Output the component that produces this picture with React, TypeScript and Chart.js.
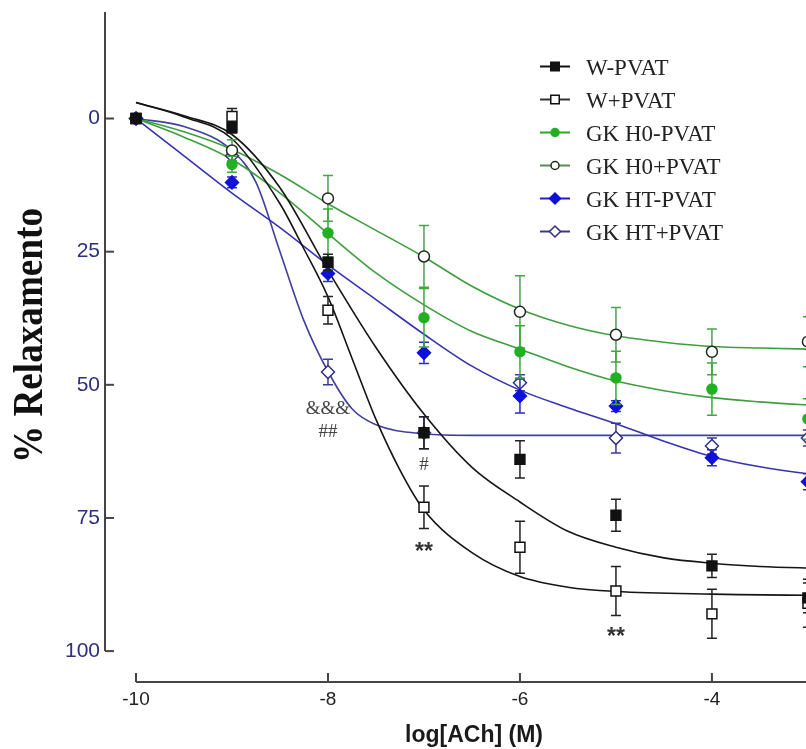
import { useEffect, useRef } from "react";
import { Chart, registerables } from "chart.js";

Chart.register(...registerables);

// ---- data ----
const doses = [-10, -9, -8, -7, -6, -5, -4, -3];
const seriesLabels = ["W-PVAT", "W+PVAT", "GK H0-PVAT", "GK H0+PVAT", "GK HT-PVAT", "GK HT+PVAT"];

const wMinusMean = [0, 1.7, 27, 59, 64, 74.5, 84, 90];
const wMinusErr = [0, 1, 1.5, 3, 3.5, 3, 2.2, 2.8];
const wPlusMean = [0, -0.4, 36, 73, 80.5, 88.7, 93, 91];
const wPlusErr = [0, 1.5, 2.6, 4, 4.9, 4.6, 4.6, 4.5];
const h0MinusMean = [0, 8.6, 21.5, 37.4, 43.8, 48.7, 50.8, 56.4];
const h0MinusErr = [0, 1.5, 4.5, 5.5, 4.9, 5, 4.9, 3.8];
const h0PlusMean = [0, 6, 15, 25.9, 36.3, 40.6, 43.8, 41.9];
const h0PlusErr = [0, 2, 4.3, 5.8, 6.8, 5.1, 4.3, 4.7];
const htMinusMean = [0, 12, 29.1, 44, 52.1, 54, 63.7, 68.2];
const htMinusErr = [0, 1, 1.5, 2, 3.2, 1, 1.5, 1.5];
const htPlusMean = [0, 7, 47.6, 59, 49.6, 60, 61.5, 60];
const htPlusErr = [0, 1, 2.4, 3, 1.5, 2.8, 1.5, 1.5];

// fitted curves
const fitX = [-10, -9.5, -9, -8.5, -8, -7.5, -7, -6.5, -6, -5.5, -5, -4.5, -4, -3.5, -3, -2.5];
const wMinusFit = [-3, -0.5, 3, 13, 28.5, 43, 55.5, 65.5, 72, 77.5, 80.5, 82.5, 83.5, 84.1, 84.4, 84.6];
const wPlusFitX = [-10, -9.5, -9, -8.5, -8.25, -8, -7.75, -7.5, -7.25, -7, -6.5, -6, -5.5, -5, -4, -3, -2.5];
const wPlusFit = [-3, -0.3, 3.8, 16, 24.5, 33.5, 45, 56.5, 66, 73.5, 81.5, 86, 88, 88.8, 89.3, 89.5, 89.5];
const h0MinusFit = [0, 3.5, 7.7, 14, 21.6, 29, 35, 40, 43.3, 46.6, 49.3, 51.1, 52.4, 53.2, 53.8, 54.2];
const h0PlusFit = [0, 2.5, 5.8, 10.5, 16, 21, 26, 31.5, 35.8, 38.8, 40.8, 42, 42.8, 43.1, 43.3, 43.4];
const htMinusFit = [0, 7, 14, 20.5, 27.5, 34, 40.5, 46.5, 51, 54.3, 57.3, 60.6, 63.5, 65.4, 66.7, 67.6];
const htPlusFitX = [-10, -9.5, -9, -8.75, -8.5, -8.25, -8, -7.75, -7.5, -7, -6.5, -6, -5, -4, -3, -2.5];
const htPlusFit = [0, 1.5, 6, 12, 25, 38, 47.5, 54.5, 57.5, 59.2, 59.5, 59.5, 59.5, 59.5, 59.5, 59.5];

const xTicks = [-10, -8, -6, -4];
const yTicks = [0, 25, 50, 75, 100];
const yAxisTop = -20;

const annotText = ["&&&", "##", "#", "**", "**"];
const annotX = [-8, -8, -7, -7, -5];
const annotY = [54.5, 58.9, 65, 80.2, 96.3];

const xTitle = "log[ACh] (M)";
const yTitle = "% Relaxamento";

// ---- styles ----
const markerStyles = [
  { shape: "rect", r: 7, fill: "#111", stroke: "#111", err: "#222" },
  { shape: "rect", r: 7, fill: "#fff", stroke: "#111", err: "#222" },
  { shape: "circle", r: 5, fill: "#22b022", stroke: "#22b022", err: "#3aaa3a" },
  { shape: "circle", r: 5.5, fill: "#fff", stroke: "#1e2a1e", err: "#4aa24a" },
  { shape: "rectRot", r: 6.5, fill: "#1010dc", stroke: "#1010dc", err: "#2a2ad0" },
  { shape: "rectRot", r: 6.5, fill: "#fff", stroke: "#30307e", err: "#3a3a9a" },
];
const fitColors = ["#151515", "#151515", "#3e9e3e", "#3e9e3e", "#3434b0", "#40409c"];
const legendLineColors = ["#111", "#333", "#22aa22", "#5a8a5a", "#2020c8", "#3a3a88"];

const CANVAS_W = 830;
const CANVAS_H = 749;

function drawMarker(ctx: CanvasRenderingContext2D, shape: string, x: number, y: number, r: number, fill: string, stroke: string) {
  ctx.beginPath();
  if (shape === "rect") {
    const s = r * Math.SQRT1_2;
    ctx.rect(x - s, y - s, 2 * s, 2 * s);
  } else if (shape === "rectRot") {
    ctx.moveTo(x, y - r);
    ctx.lineTo(x + r, y);
    ctx.lineTo(x, y + r);
    ctx.lineTo(x - r, y);
    ctx.closePath();
  } else {
    ctx.arc(x, y, r, 0, Math.PI * 2);
  }
  ctx.fillStyle = fill;
  ctx.fill();
  ctx.lineWidth = 1.5;
  ctx.strokeStyle = stroke;
  ctx.stroke();
}

export default function App() {
  const ref = useRef<HTMLCanvasElement>(null);

  useEffect(() => {
    const canvas = ref.current;
    if (!canvas) return;

    const means = [wMinusMean, wPlusMean, h0MinusMean, h0PlusMean, htMinusMean, htPlusMean];
    const errs = [wMinusErr, wPlusErr, h0MinusErr, h0PlusErr, htMinusErr, htPlusErr];
    const fitXs = [fitX, wPlusFitX, fitX, fitX, fitX, htPlusFitX];
    const fits = [wMinusFit, wPlusFit, h0MinusFit, h0PlusFit, htMinusFit, htPlusFit];

    const fitSets = fits.map((f, i) => ({
      label: seriesLabels[i] + " fit",
      data: f.map((v, j) => ({ x: fitXs[i][j], y: v })),
      showLine: true,
      borderColor: fitColors[i],
      borderWidth: 1.6,
      pointRadius: 0,
      cubicInterpolationMode: "monotone",
      order: 2,
    }));

    const pointSets = means.map((m, i) => ({
      label: seriesLabels[i],
      data: m.map((v, j) => ({ x: doses[j], y: v })),
      errors: errs[i],
      showLine: false,
      pointStyle: markerStyles[i].shape,
      pointRadius: markerStyles[i].r,
      pointBackgroundColor: markerStyles[i].fill,
      pointBorderColor: markerStyles[i].stroke,
      pointBorderWidth: 1.5,
      backgroundColor: markerStyles[i].fill,
      borderColor: markerStyles[i].stroke,
      errColor: markerStyles[i].err,
      order: 1,
      clip: false,
    }));

    const decor = {
      id: "decor",
      beforeDatasetsDraw(chart: any) {
        const { ctx, chartArea } = chart;
        const xs = chart.scales.x;
        const ys = chart.scales.y;
        ctx.save();
        ctx.strokeStyle = "#454545";
        ctx.lineWidth = 2;
        const ax = chartArea.left;
        ctx.beginPath();
        ctx.moveTo(ax, ys.getPixelForValue(yAxisTop));
        ctx.lineTo(ax, ys.getPixelForValue(100));
        ctx.stroke();
        yTicks.forEach((v) => {
          const py = ys.getPixelForValue(v);
          ctx.beginPath();
          ctx.moveTo(ax, py);
          ctx.lineTo(ax + 9, py);
          ctx.stroke();
        });
        const ay = chartArea.bottom;
        ctx.beginPath();
        ctx.moveTo(xs.getPixelForValue(-10), ay);
        ctx.lineTo(chart.width, ay);
        ctx.stroke();
        xTicks.forEach((v) => {
          const px = xs.getPixelForValue(v);
          ctx.beginPath();
          ctx.moveTo(px, ay);
          ctx.lineTo(px, ay - 9);
          ctx.stroke();
        });
        ctx.restore();
      },
      beforeDatasetDraw(chart: any, args: any) {
        const ds = chart.data.datasets[args.index];
        if (!ds.errors) return;
        const { ctx } = chart;
        const xs = chart.scales.x;
        const ys = chart.scales.y;
        ctx.save();
        ctx.strokeStyle = ds.errColor;
        ctx.lineWidth = 1.5;
        ds.data.forEach((p: any, j: number) => {
          const e = ds.errors[j];
          if (!e) return;
          const px = xs.getPixelForValue(p.x);
          const y1 = ys.getPixelForValue(p.y - e);
          const y2 = ys.getPixelForValue(p.y + e);
          ctx.beginPath();
          ctx.moveTo(px, y1);
          ctx.lineTo(px, y2);
          ctx.moveTo(px - 5, y1);
          ctx.lineTo(px + 5, y1);
          ctx.moveTo(px - 5, y2);
          ctx.lineTo(px + 5, y2);
          ctx.stroke();
        });
        ctx.restore();
      },
      afterDatasetsDraw(chart: any) {
        const { ctx } = chart;
        const xs = chart.scales.x;
        const ys = chart.scales.y;
        ctx.save();
        // annotations
        annotText.forEach((t, i) => {
          const px = xs.getPixelForValue(annotX[i]);
          const py = ys.getPixelForValue(annotY[i]);
          ctx.textAlign = "center";
          ctx.textBaseline = "middle";
          if (t.startsWith("*")) {
            ctx.font = 'bold 23px "Liberation Sans", Arial, sans-serif';
            ctx.fillStyle = "#333";
            ctx.textBaseline = "alphabetic";
            ctx.fillText(t, px, py + 13);
          } else {
            ctx.font = '19px "Liberation Serif", "Times New Roman", serif';
            ctx.fillStyle = "#444";
            ctx.fillText(t, px, py);
          }
        });

        // legend
        const legX0 = 540, legX1 = 570, legMx = 555, legTextX = 586, legY0 = 66.5, legDy = 33;
        seriesLabels.forEach((lab, i) => {
          const cy = legY0 + i * legDy;
          ctx.strokeStyle = legendLineColors[i];
          ctx.lineWidth = 2;
          ctx.beginPath();
          ctx.moveTo(legX0, cy);
          ctx.lineTo(legX1, cy);
          ctx.stroke();
          const ms = markerStyles[i];
          drawMarker(ctx, ms.shape, legMx, cy, ms.shape === "circle" ? 4 : ms.shape === "rect" ? 6 : 5.5, ms.fill, ms.stroke);
          ctx.font = '23px "Liberation Serif", "Times New Roman", serif';
          ctx.fillStyle = "#222";
          ctx.textAlign = "left";
          ctx.textBaseline = "alphabetic";
          ctx.fillText(lab, legTextX, cy + 8);
        });

        // x title
        ctx.font = 'bold 23px "Liberation Sans", Arial, sans-serif';
        ctx.fillStyle = "#1a1a1a";
        ctx.textAlign = "center";
        ctx.textBaseline = "alphabetic";
        ctx.fillText(xTitle, 474, 742);

        // y title (condensed serif, rotated)
        ctx.font = 'bold 42px "Liberation Serif", "Times New Roman", serif';
        const w = ctx.measureText(yTitle).width;
        ctx.translate(42, 335.5);
        ctx.rotate(-Math.PI / 2);
        ctx.scale(255 / w, 1);
        ctx.fillStyle = "#111";
        ctx.textAlign = "center";
        ctx.fillText(yTitle, 0, 0);
        ctx.restore();
      },
    };

    const chart = new Chart(canvas, {
      type: "scatter",
      data: { datasets: [...fitSets, ...pointSets] as any },
      options: {
        responsive: false,
        animation: false,
        devicePixelRatio: 1,
        layout: { autoPadding: false, padding: { top: 12, left: 0, right: 0, bottom: 0 } },
        plugins: { legend: { display: false }, tooltip: { enabled: false } },
        scales: {
          x: {
            type: "linear",
            min: -10.323,
            max: -2.77,
            grid: { display: false, drawTicks: false },
            border: { display: false },
            ticks: {
              padding: 6,
              color: "#222",
              font: { family: '"Liberation Sans", Arial, sans-serif', size: 19 },
            },
            afterBuildTicks: (s: any) => {
              s.ticks = xTicks.map((v) => ({ value: v }));
            },
            afterFit: (s: any) => {
              s.height = 67;
              s.paddingLeft = 0;
              s.paddingRight = 0;
              s.paddingTop = 0;
              s.paddingBottom = 0;
            },
          },
          y: {
            type: "linear",
            reverse: true,
            min: yAxisTop,
            max: 105.8,
            grid: { display: false, drawTicks: false },
            border: { display: false },
            ticks: {
              padding: 5,
              color: "#2e2e80",
              font: { family: '"Liberation Sans", Arial, sans-serif', size: 21 },
            },
            afterBuildTicks: (s: any) => {
              s.ticks = yTicks.map((v) => ({ value: v }));
            },
            afterFit: (s: any) => {
              s.width = 105;
              s.paddingLeft = 0;
              s.paddingRight = 0;
              s.paddingTop = 0;
              s.paddingBottom = 0;
            },
          },
        },
      } as any,
      plugins: [decor],
    });

    return () => chart.destroy();
  }, []);

  return (
    <div
      style={{
        position: "fixed",
        left: 0,
        top: 0,
        width: 806,
        height: 749,
        overflow: "hidden",
        background: "#fff",
      }}
    >
      <canvas ref={ref} width={CANVAS_W} height={CANVAS_H} style={{ display: "block", width: CANVAS_W, height: CANVAS_H }} />
    </div>
  );
}
